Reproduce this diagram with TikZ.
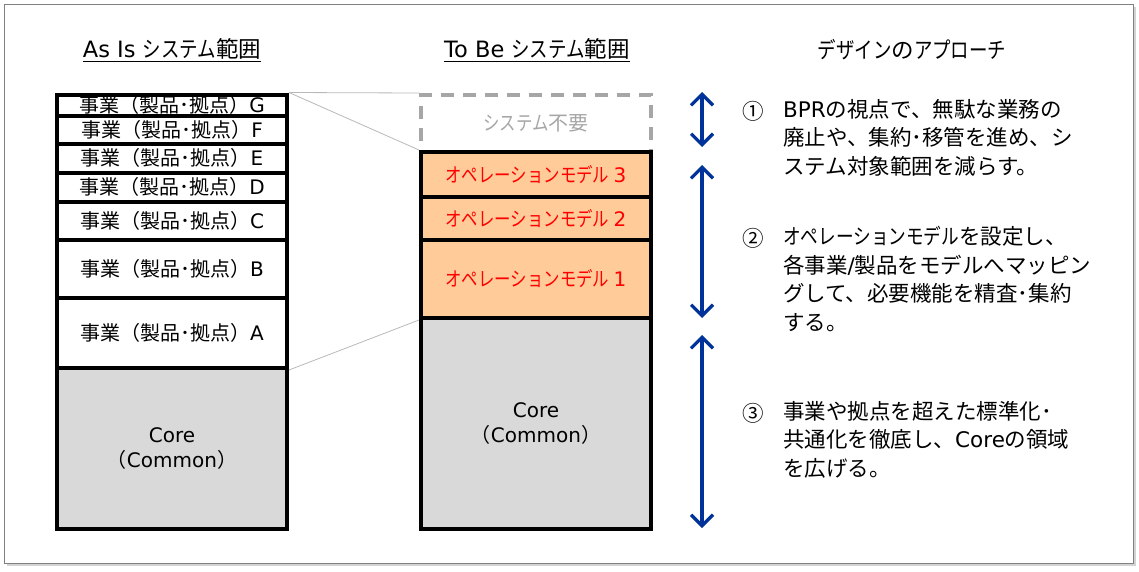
\documentclass[tikz,border=0pt]{standalone}
\usepackage{fontspec}
\setmainfont{Noto Sans CJK JP}
\newfontfamily\latfont{DejaVu Sans}
\newfontfamily\narfont{Noto Sans CJK JP}[FakeStretch=0.82]
\newcommand\lat[1]{{\latfont #1}}
\newcommand\nar[1]{{\narfont #1}}
\usetikzlibrary{positioning, arrows.meta, shadows}

\definecolor{opfill}{RGB}{255,204,153}
\definecolor{coregray}{RGB}{217,217,217}
\definecolor{arrowblue}{RGB}{0,51,153}
\definecolor{dashgray}{RGB}{166,166,166}
\definecolor{linkgray}{RGB}{185,185,185}
\definecolor{framegray}{RGB}{128,128,128}

\begin{document}
\begin{tikzpicture}[x=1pt, y=-1pt,
    rowbox/.style={draw=black, fill=white, line width=4pt, minimum width=230pt,
      inner sep=0pt, font=\fontsize{20}{25}\selectfont, align=center},
    opbox/.style={rowbox, fill=opfill, text=red},
    dashbox/.style={draw=dashgray, line width=4pt, dash pattern=on 13pt off 9pt,
      minimum width=230pt, inner sep=0pt, text=dashgray, font=\fontsize{20}{25}\selectfont},
    headtext/.style={font=\fontsize{22.5}{26}\selectfont, inner sep=0pt},
    numtext/.style={font=\fontsize{21.5}{28.5}\selectfont, inner sep=0pt},
    apptext/.style={font=\fontsize{21.5}{28.5}\selectfont, inner sep=0pt, align=left, anchor=north west},
    link/.style={draw=linkgray, line width=0.8pt},
    apparrow/.style={draw=arrowblue, line width=3.2pt, {Straight Barb[length=11pt, width=22pt]}-{Straight Barb[length=11pt, width=22pt]}}]
    \useasboundingbox (0,0) rectangle (1139,571);
    \path[fill=white, draw=framegray, line width=1pt,
      drop shadow={shadow xshift=3pt, shadow yshift=-3pt, opacity=0.35}]
      (4,4) rectangle (1133,563);

    % headings
    \node[headtext] (asIsHead) at (172,50) {\underline{\lat{As Is\ }\nar{システム}範囲}};
    \node[headtext] (toBeHead) at (537,50) {\underline{\lat{To Be\ }\nar{システム}範囲}};
    \node[headtext] (apprHead) at (912,50) {\nar{デザイン}の\nar{アプローチ}};

    % as is column
    \foreach \nm/\lab/\ya/\yb in {g/G/94.5/115.5, f/F/115.5/144, e/E/144/172.5,
        d/D/172.5/202, c/C/202/240, b/B/240/297.5, a/A/297.5/368} {
      \pgfmathsetmacro\ymid{(\ya+\yb)/2}
      \pgfmathsetmacro\hgt{\yb-\ya}
      \node[rowbox, minimum height=\hgt pt] (row\nm) at (172,\ymid) {事業（製品･拠点）\lat{\lab}};
    }
    \node[rowbox, fill=coregray, minimum height=161pt] (coreL) at (172,448.5)
      {\lat{Core}\\（\lat{Common}）};

    % to be column
    \node[dashbox, minimum height=57pt] (noSys) at (536,123.5) {\nar{システム}不要};
    \node[opbox, minimum height=45pt] (op3) at (536,174.5) {\nar{オペレーションモデル} \lat{3}};
    \node[opbox, minimum height=43pt] (op2) at (536,218.5) {\nar{オペレーションモデル} \lat{2}};
    \node[opbox, minimum height=78pt] (op1) at (536,279) {\nar{オペレーションモデル} \lat{1}};
    \node[rowbox, fill=coregray, minimum height=211pt] (coreR) at (536,423.5)
      {\lat{Core}\\（\lat{Common}）};

    \draw[link] (rowg.north east) -- (noSys.north west);
    \draw[link] (rowg.north east) -- (op3.north west);
    \draw[link] (rowa.south east) -- (op1.south west);

    % approach arrows
    \coordinate (ar1a) at (702,92);
    \coordinate (ar1b) at (702,147);
    \coordinate (ar2a) at (702,165);
    \coordinate (ar2b) at (702,318);
    \coordinate (ar3a) at (702,335);
    \coordinate (ar3b) at (702,528);
    \draw[apparrow] (ar1a) -- (ar1b);
    \draw[apparrow] (ar2a) -- (ar2b);
    \draw[apparrow] (ar3a) -- (ar3b);

    % approach texts
    \node[numtext] (num1) at (753,111) {①};
    \node[apptext] (appr1) at (783,99)
      {\lat{BPR}の視点で、無駄な業務の\\廃止や、集約･移管を進め、シ\\ステム対象範囲を減らす。};
    \node[numtext] (num2) at (753,238) {②};
    \node[apptext] (appr2) at (783,226)
      {\nar{オペレーションモデル}を設定し、\\各事業\lat{/}製品をモデルへマッピン\\グして、必要機能を精査･集約\\する。};
    \node[numtext] (num3) at (753,413) {③};
    \node[apptext] (appr3) at (783,401)
      {事業や拠点を超えた標準化･\\共通化を徹底し、\lat{Core}の領域\\を広げる。};
\end{tikzpicture}
\end{document}
